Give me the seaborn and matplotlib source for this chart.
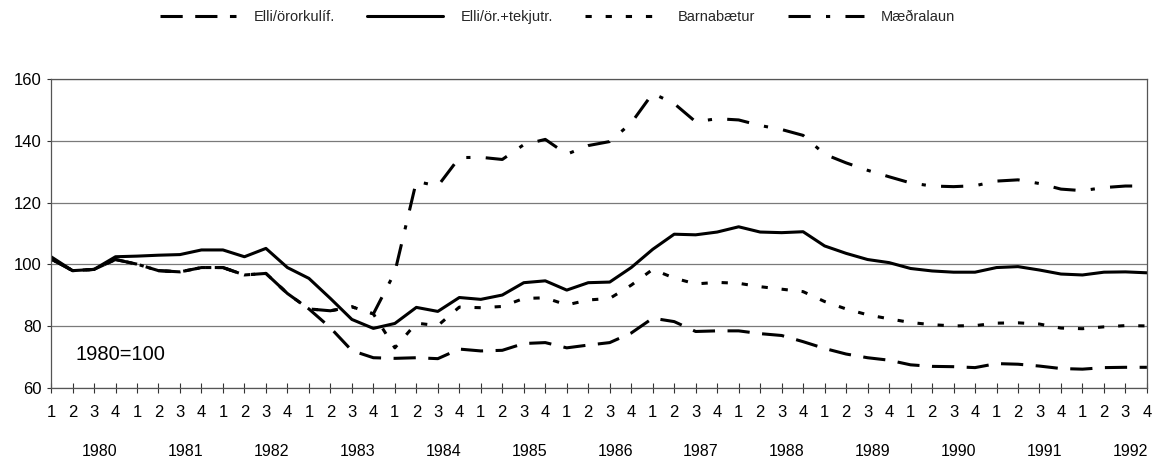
import numpy as np
import pandas as pd
import matplotlib
matplotlib.use("Agg")
import matplotlib.pyplot as plt
from matplotlib.transforms import blended_transform_factory
import seaborn as sns

# ---------------- data ----------------
years = [str(y) for y in range(1980, 1993)]
quarter_labels = ["1", "2", "3", "4"] * len(years)

series_names = ["Elli/örorkulíf.", "Elli/ör.+tekjutr.", "Barnabætur", "Mæðralaun"]

elli_ororkulif = [101.8, 98.0, 98.4, 101.6, 100.1, 98.0, 97.6, 99.0, 99.0, 96.6, 97.1, 90.6,
                  85.6, 79.5, 72.1, 69.8, 69.6, 69.8, 69.5, 72.6, 72.0, 72.2, 74.4, 74.7,
                  73.0, 73.9, 74.7, 77.8, 82.6, 81.5, 78.3, 78.5, 78.5, 77.6, 77.0, 75.0,
                  72.8, 71.0, 69.8, 69.0, 67.5, 67.0, 66.9, 66.6, 67.9, 67.7, 67.1, 66.3,
                  66.1, 66.6, 66.7, 66.7]

elli_tekjutr = [102.5, 98.0, 98.4, 102.5, 102.7, 103.0, 103.2, 104.7, 104.7, 102.5, 105.2, 99.0,
                95.5, 89.0, 82.2, 79.3, 80.9, 86.1, 84.8, 89.3, 88.7, 90.1, 94.1, 94.7,
                91.7, 94.1, 94.3, 99.0, 104.9, 109.8, 109.6, 110.5, 112.2, 110.5, 110.3, 110.6,
                106.0, 103.6, 101.6, 100.6, 98.7, 97.9, 97.5, 97.5, 99.0, 99.3, 98.2, 96.9,
                96.6, 97.5, 97.6, 97.3]

barnabaetur = [101.8, 98.0, 98.4, 101.6, 100.1, 98.0, 97.6, 99.0, 99.0, 96.6, 97.1, 90.6,
               85.6, 85.0, 86.3, 84.0, 73.0, 81.0, 80.2, 86.2, 86.0, 86.4, 89.0, 89.2,
               86.9, 88.5, 89.0, 93.3, 98.4, 95.6, 93.7, 94.2, 93.9, 92.8, 92.0, 91.2,
               88.0, 85.6, 83.7, 82.4, 81.2, 80.5, 80.1, 80.2, 81.0, 81.1, 80.7, 79.4,
               79.2, 79.8, 80.2, 80.1]

maedralaun = [101.8, 98.0, 98.4, 101.6, 100.1, 98.0, 97.6, 99.0, 99.0, 96.6, 97.1, 90.6,
              85.6, 85.0, 86.3, 84.0, 97.5, 126.9, 125.4, 134.6, 134.7, 134.0, 138.8, 140.5,
              135.7, 138.5, 139.8, 145.8, 155.4, 152.1, 146.2, 147.2, 146.8, 145.0, 143.7, 141.8,
              135.7, 132.9, 130.5, 128.4, 126.4, 125.4, 125.2, 125.5, 127.0, 127.4, 126.2, 124.4,
              123.9, 124.9, 125.4, 125.4]

values = [elli_ororkulif, elli_tekjutr, barnabaetur, maedralaun]
n = len(quarter_labels)
df = pd.DataFrame({
    "t": np.tile(np.arange(n), len(series_names)),
    "value": np.concatenate(values),
    "series": np.repeat(series_names, n),
})

# ---------------- style ----------------
sns.set_theme(style="white")
plt.rcParams["font.family"] = ["Liberation Sans", "DejaVu Sans"]
plt.rcParams["lines.scale_dashes"] = False

dash_map = {
    "Elli/örorkulíf.": (16, 9),
    "Elli/ör.+tekjutr.": "",
    "Barnabætur": (4.5, 10),
    "Mæðralaun": (16, 11, 3, 11),
}

fig, ax = plt.subplots(figsize=(11.55, 4.63), dpi=100)
fig.subplots_adjust(left=0.0442, right=0.993, bottom=0.162, top=0.829)

sns.lineplot(data=df, x="t", y="value", hue="series", style="series",
             hue_order=series_names, style_order=series_names,
             palette={s: "black" for s in series_names}, dashes=dash_map,
             linewidth=2.2, ax=ax, legend="full")

ax.set_xlim(0, n - 1)
ax.set_ylim(60, 160)
ax.set_yticks(range(60, 161, 20))
ax.set_xticks(range(n))
ax.set_xticklabels(quarter_labels)
ax.set_xlabel("")
ax.set_ylabel("")

ax.yaxis.grid(True, color="#7a7a7a", linewidth=0.9)
ax.xaxis.grid(False)
ax.set_axisbelow(True)
for side, sp in ax.spines.items():
    sp.set_visible(True)
    sp.set_color("#555555")
    sp.set_linewidth(0.9)

ax.tick_params(axis="x", direction="inout", length=7, width=0.8, color="#333333",
               pad=9, labelsize=12, labelcolor="black")
ax.tick_params(axis="y", direction="out", length=3, width=0.8, color="#333333",
               pad=4, labelsize=12, labelcolor="black")
ax.tick_params(bottom=True, left=True)

trans = blended_transform_factory(ax.transData, ax.transAxes)
for k, y in enumerate(years):
    ax.text(4 * k + 2.25, -0.207, y, transform=trans, ha="center", va="center",
            fontsize=11.5, color="black")

ax.text(1.12, 70.7, "1980=100", fontsize=14.5, va="center", ha="left", color="black")

sns.move_legend(ax, "center", bbox_to_anchor=(0.483, 0.963), bbox_transform=fig.transFigure,
                ncol=4, frameon=False, title=None, fontsize=10.5, handlelength=5.2,
                handletextpad=1.2, columnspacing=2.2)

fig.savefig("out.png", dpi=100)
